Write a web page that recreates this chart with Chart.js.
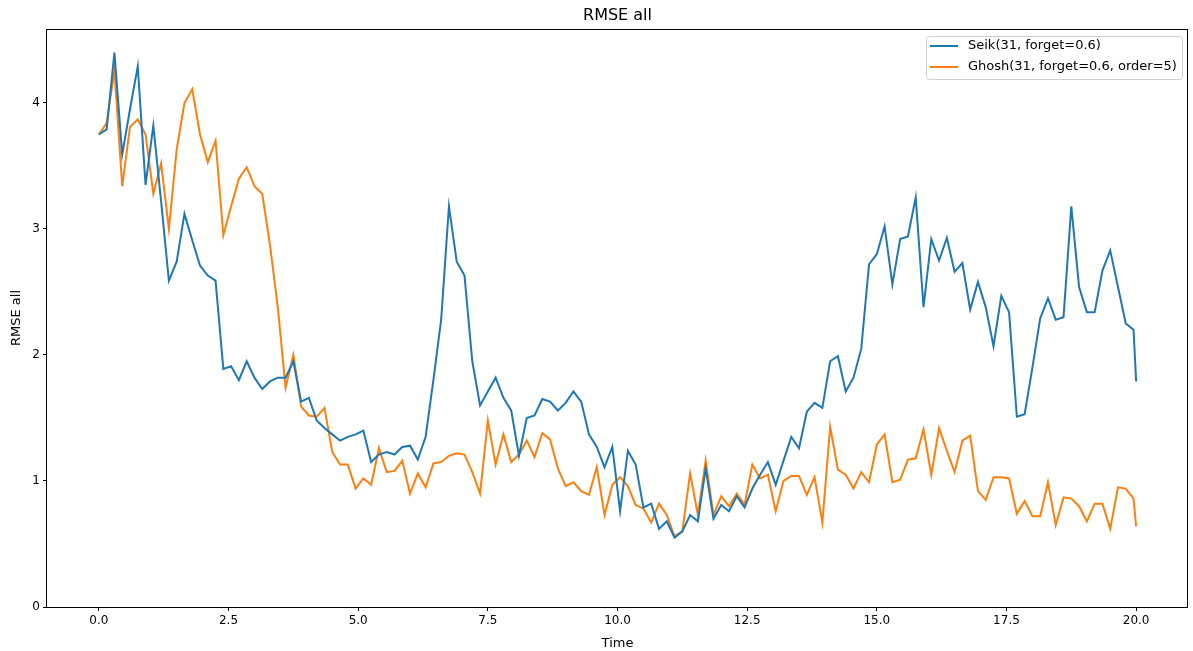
<!DOCTYPE html>
<html>
<head>
<meta charset="utf-8">
<script src="https://cdn.jsdelivr.net/npm/chart.js@4.4.1/dist/chart.umd.min.js"></script>
<style>
html,body{margin:0;padding:0;background:#fff;}
#c{display:block;}
</style>
</head>
<body>
<canvas id="c" width="1193" height="651"></canvas>
<script>
const times = [0,0.15,0.3,0.45,0.6,0.75,0.9,1.05,1.2,1.35,1.5,1.65,1.8,1.95,2.1,2.25,2.4,2.55,2.7,2.85,
3,3.15,3.3,3.45,3.6,3.75,3.9,4.05,4.2,4.35,4.5,4.65,4.8,4.95,5.1,5.25,5.4,5.55,5.7,5.85,
6,6.15,6.3,6.45,6.6,6.75,6.9,7.05,7.2,7.35,7.5,7.65,7.8,7.95,8.1,8.25,8.4,8.55,8.7,8.85,
9,9.15,9.3,9.45,9.6,9.75,9.9,10.05,10.2,10.35,10.5,10.65,10.8,10.95,11.1,11.25,11.4,11.55,11.7,11.85,
12,12.15,12.3,12.45,12.6,12.75,12.9,13.05,13.2,13.35,13.5,13.65,13.8,13.95,14.1,14.25,14.4,14.55,14.7,14.85,
15,15.15,15.3,15.45,15.6,15.75,15.9,16.05,16.2,16.35,16.5,16.65,16.8,16.95,17.1,17.25,17.4,17.55,17.7,17.85,
18,18.15,18.3,18.45,18.6,18.75,18.9,19.05,19.2,19.35,19.5,19.65,19.8,19.95,20];

const seik = [3.75,3.79,4.40,3.59,3.95,4.29,3.35,3.82,3.22,2.59,2.74,3.12,2.91,2.71,2.63,2.59,1.89,1.91,1.80,1.95,
1.82,1.73,1.79,1.82,1.82,1.95,1.63,1.66,1.48,1.42,1.37,1.32,1.35,1.37,1.40,1.15,1.21,1.23,1.21,1.27,
1.28,1.17,1.35,1.80,2.28,3.18,2.74,2.63,1.95,1.60,1.71,1.82,1.66,1.56,1.20,1.50,1.52,1.65,1.63,1.56,
1.62,1.71,1.63,1.37,1.27,1.11,1.27,0.76,1.24,1.13,0.79,0.82,0.62,0.68,0.55,0.60,0.73,0.68,1.10,0.70,
0.81,0.76,0.88,0.79,0.94,1.05,1.15,0.97,1.16,1.35,1.26,1.55,1.62,1.58,1.95,1.99,1.71,1.82,2.05,2.72,
2.80,3.02,2.56,2.92,2.94,3.25,2.38,2.92,2.75,2.93,2.66,2.73,2.36,2.58,2.38,2.07,2.47,2.34,1.51,1.53,
1.90,2.29,2.45,2.28,2.30,3.18,2.54,2.34,2.34,2.67,2.83,2.54,2.25,2.20,1.79];

const ghosh = [3.75,3.84,4.26,3.34,3.81,3.87,3.75,3.28,3.52,3.00,3.63,4.00,4.11,3.75,3.53,3.70,2.95,3.18,3.40,3.49,
3.34,3.28,2.87,2.38,1.74,2.00,1.59,1.52,1.51,1.58,1.23,1.13,1.13,0.94,1.02,0.97,1.26,1.07,1.08,1.16,
0.90,1.06,0.95,1.14,1.15,1.20,1.22,1.21,1.07,0.90,1.48,1.13,1.37,1.15,1.21,1.32,1.19,1.38,1.33,1.10,
0.96,0.99,0.92,0.89,1.11,0.73,0.97,1.03,0.96,0.81,0.78,0.67,0.82,0.73,0.56,0.60,1.06,0.73,1.16,0.73,
0.88,0.80,0.90,0.81,1.13,1.02,1.05,0.76,1.00,1.04,1.04,0.89,1.03,0.67,1.43,1.09,1.05,0.94,1.07,0.99,
1.29,1.37,0.99,1.01,1.17,1.18,1.41,1.05,1.42,1.24,1.07,1.32,1.36,0.92,0.85,1.03,1.03,1.02,0.74,0.84,
0.72,0.72,0.99,0.65,0.87,0.86,0.80,0.68,0.82,0.82,0.62,0.95,0.94,0.86,0.64];

const seriesNames = ['Seik(31, forget=0.6)', 'Ghosh(31, forget=0.6, order=5)'];
const xTicks = [0, 2.5, 5, 7.5, 10, 12.5, 15, 17.5, 20];
const yTicks = [0, 1, 2, 3, 4];
const chartTitle = 'RMSE all';
const xTitle = 'Time';
const yTitle = 'RMSE all';

const FONT = '"DejaVu Sans", sans-serif';
const colors = ['#1f77b4', '#ff7f0e'];

const toPts = (arr) => arr.map((v, i) => ({x: times[i], y: v}));

const framePlugin = {
  id: 'frame',
  afterDraw(chart) {
    const {ctx, chartArea: a} = chart;
    ctx.save();
    ctx.strokeStyle = '#000';
    ctx.lineWidth = 1;
    ctx.strokeRect(Math.round(a.left) - 0.5, Math.round(a.top) + 0.5,
      Math.round(a.right - a.left), Math.round(a.bottom - a.top));
    // title
    ctx.fillStyle = '#000';
    ctx.font = '16px ' + FONT;
    ctx.textAlign = 'center';
    ctx.textBaseline = 'alphabetic';
    ctx.fillText(chartTitle, (a.left + a.right) / 2, 20);
    // legend
    const bx = 926, by = 36, bw = 256, bh = 43;
    ctx.fillStyle = 'rgba(255,255,255,0.8)';
    ctx.strokeStyle = '#d0d0d0';
    ctx.lineWidth = 1;
    ctx.beginPath();
    if (ctx.roundRect) ctx.roundRect(bx + 0.5, by + 0.5, bw, bh, 3); else ctx.rect(bx + 0.5, by + 0.5, bw, bh);
    ctx.fill();
    ctx.stroke();
    ctx.font = '13px ' + FONT;
    ctx.textAlign = 'left';
    ctx.textBaseline = 'middle';
    seriesNames.forEach((name, k) => {
      const yy = by + 10 + k * 21;
      ctx.strokeStyle = colors[k];
      ctx.lineWidth = 2;
      ctx.beginPath();
      ctx.moveTo(bx + 4, yy);
      ctx.lineTo(bx + 32, yy);
      ctx.stroke();
      ctx.fillStyle = '#000';
      ctx.fillText(name, bx + 42, yy);
    });
    ctx.restore();
  }
};

new Chart(document.getElementById('c'), {
  type: 'line',
  data: {
    datasets: [
      {label: seriesNames[0], data: toPts(seik), borderColor: colors[0], backgroundColor: colors[0], borderWidth: 2, pointRadius: 0, tension: 0, fill: false},
      {label: seriesNames[1], data: toPts(ghosh), borderColor: colors[1], backgroundColor: colors[1], borderWidth: 2, pointRadius: 0, tension: 0, fill: false}
    ]
  },
  options: {
    responsive: false,
    animation: false,
    devicePixelRatio: 1,
    layout: {padding: {top: 29, right: 5, left: 0, bottom: 0}},
    plugins: {legend: {display: false}, title: {display: false}, tooltip: {enabled: false}},
    scales: {
      x: {
        type: 'linear', min: -1, max: 21,
        afterBuildTicks: (s) => { s.ticks = xTicks.map(v => ({value: v})); },
        afterFit: (s) => { s.height = 44; },
        grid: {display: true, drawOnChartArea: false, drawTicks: true, tickLength: 4, color: '#000'},
        border: {display: false},
        ticks: {color: '#000', font: {family: FONT, size: 12}, padding: 3, maxRotation: 0, autoSkip: false,
          callback: (v) => Number(v).toFixed(1)},
        title: {display: true, text: xTitle, color: '#000', font: {family: FONT, size: 13}, padding: {top: 0, bottom: 0}}
      },
      y: {
        type: 'linear', min: 0, max: 4.587,
        afterBuildTicks: (s) => { s.ticks = yTicks.map(v => ({value: v})); },
        afterFit: (s) => { s.width = 47; },
        grid: {display: true, drawOnChartArea: false, drawTicks: true, tickLength: 4, color: '#000'},
        border: {display: false},
        ticks: {color: '#000', font: {family: FONT, size: 12}, padding: 3, autoSkip: false,
          callback: (v) => String(v)},
        title: {display: true, text: yTitle, color: '#000', font: {family: FONT, size: 13}, padding: {top: 9, bottom: 0}}
      }
    }
  },
  plugins: [framePlugin]
});
</script>
</body>
</html>
